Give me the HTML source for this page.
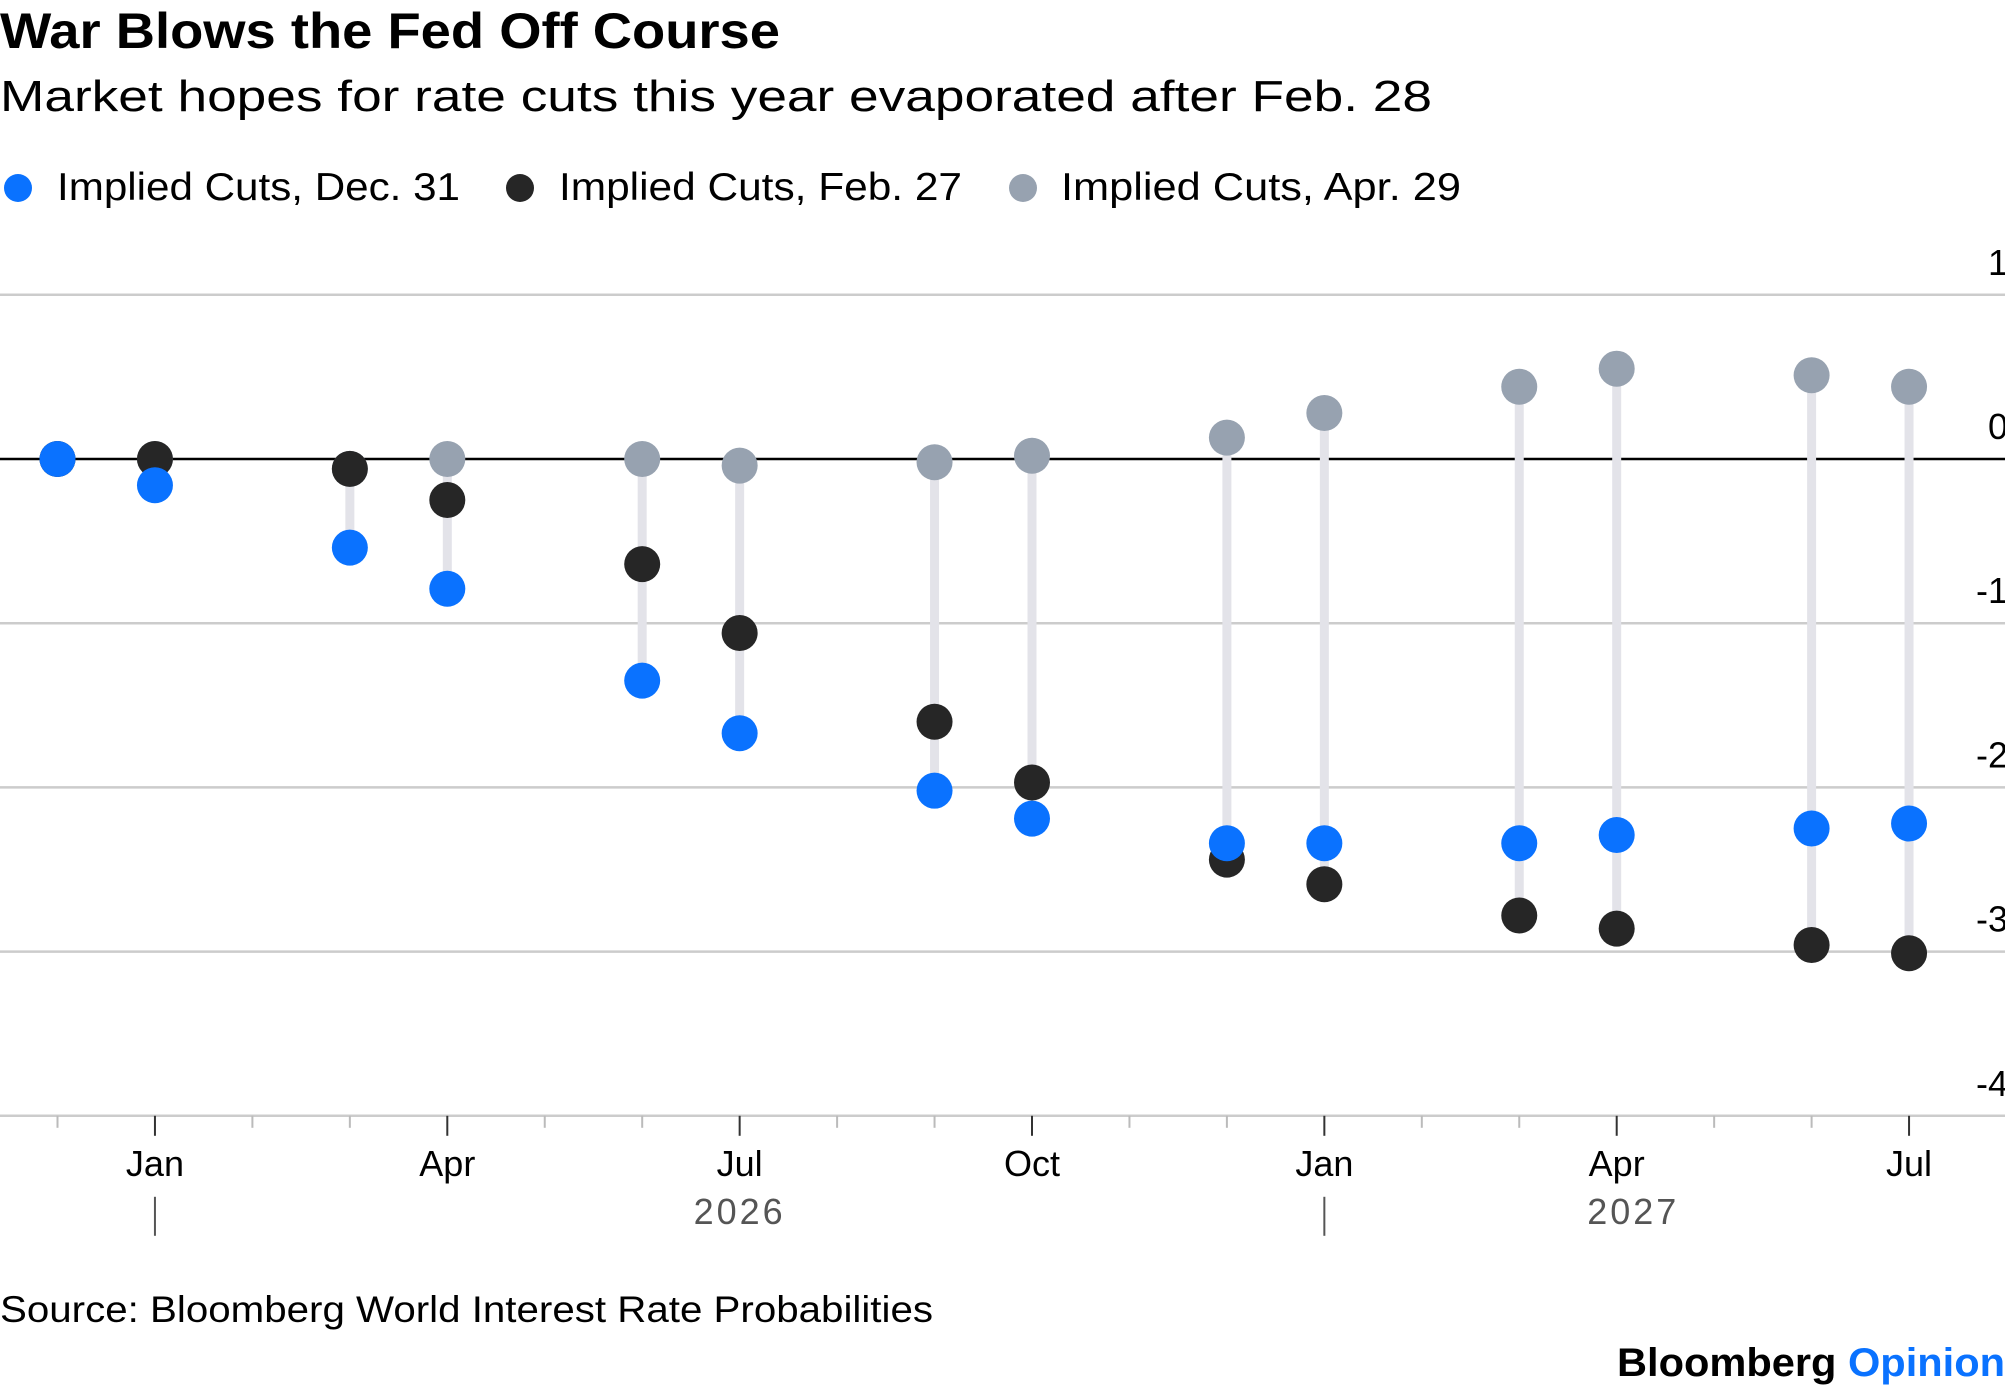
<!DOCTYPE html>
<html><head><meta charset="utf-8"><style>
html,body{margin:0;padding:0;background:#fff;}
svg{display:block;font-family:"Liberation Sans",Arial,sans-serif;}
</style></head><body>
<svg id="chart" width="2005" height="1392" viewBox="0 0 2005 1392">
<text x="0" y="48" font-size="50" font-weight="bold" fill="#000" textLength="780" lengthAdjust="spacingAndGlyphs">War Blows the Fed Off Course</text>
<text x="0" y="111" font-size="44" fill="#000" textLength="1432" lengthAdjust="spacingAndGlyphs">Market hopes for rate cuts this year evaporated after Feb. 28</text>
<g>
<g><circle cx="18" cy="188" r="14" fill="#0a72ff"/><text x="57" y="200" font-size="39" fill="#000" textLength="403" lengthAdjust="spacingAndGlyphs">Implied Cuts, Dec. 31</text></g>
<g><circle cx="520" cy="188" r="14" fill="#262626"/><text x="559" y="200" font-size="39" fill="#000" textLength="403" lengthAdjust="spacingAndGlyphs">Implied Cuts, Feb. 27</text></g>
<g><circle cx="1023" cy="188" r="14" fill="#97a2b0"/><text x="1061" y="200" font-size="39" fill="#000" textLength="400" lengthAdjust="spacingAndGlyphs">Implied Cuts, Apr. 29</text></g>
</g>
<g id="grid"></g><g id="xaxis"></g><g id="stems"></g><g id="dots"></g>
<text x="0" y="1322" font-size="37" fill="#000" textLength="933" lengthAdjust="spacingAndGlyphs">Source: Bloomberg World Interest Rate Probabilities</text>
<text x="1617" y="1376" font-size="40" font-weight="bold" textLength="388" lengthAdjust="spacingAndGlyphs"><tspan fill="#000">Bloomberg </tspan><tspan fill="#0a72ff">Opinion</tspan></text>
</svg>
<script>
const monthIdx = [0,1,3,4,6,7,9,10,12,13,15,16,18,19];
const dec31 = [0,-0.16,-0.54,-0.79,-1.35,-1.67,-2.02,-2.19,-2.34,-2.34,-2.34,-2.29,-2.25,-2.22];
const feb27 = [0,0,-0.06,-0.25,-0.64,-1.06,-1.60,-1.97,-2.44,-2.59,-2.78,-2.86,-2.96,-3.01];
const apr29 = [0,0,-0.06,0,0,-0.04,-0.02,0.02,0.13,0.28,0.44,0.55,0.51,0.44];
const yTicks = [1,0,-1,-2,-3,-4];
const yTickLabels = ["1","0","-1","-2","-3","-4"];
const xLabelMonths = [1,4,7,10,13,16,19];
const xLabels = ["Jan","Apr","Jul","Oct","Jan","Apr","Jul"];
const years = ["2026","2027"];
const yearMonthPos = [7,16.17];
const yearSepMonths = [1,13];

const NS="http://www.w3.org/2000/svg";
const xs = m => 57.5 + 97.45*m;
const ys = v => 459 - 164.2*v;
function mk(tag, attrs, parent){const e=document.createElementNS(NS,tag);for(const k in attrs)e.setAttribute(k,attrs[k]);parent.appendChild(e);return e;}
const grid=document.getElementById('grid'), xa=document.getElementById('xaxis'), stems=document.getElementById('stems'), dots=document.getElementById('dots');

yTicks.forEach((t,i)=>{
  if(t!==-4){
    const l=mk('line',{x1:0,x2:2005,y1:ys(t),y2:ys(t),stroke:t===0?'#000':'#cccccc','stroke-width':2.5},grid);
    
    
  }
  const tx=mk('text',{x:2008,y:ys(t)-20,'font-size':36,'text-anchor':'end',fill:'#000'},grid);
  tx.textContent=yTickLabels[i];
  
  
});
const base=ys(-4);
const ax=mk('line',{x1:0,x2:2005,y1:base,y2:base,stroke:'#cccccc','stroke-width':2.5},xa);


for(let m=0;m<=19;m++){
  const major=xLabelMonths.includes(m);
  const tk=mk('line',{x1:xs(m),x2:xs(m),y1:base,y2:base+(major?20:12),stroke:major?'#333':'#bbb','stroke-width':2},xa);
  
  
}
xLabelMonths.forEach((m,i)=>{
  const t=mk('text',{x:xs(m),y:base+60,'font-size':36,'text-anchor':'middle',fill:'#000'},xa);
  t.textContent=xLabels[i];
  
  
});
yearSepMonths.forEach(m=>{
  const s=mk('line',{x1:xs(m),x2:xs(m),y1:base+81,y2:base+120,stroke:'#555','stroke-width':2},xa);
  
  
});
years.forEach((y,i)=>{
  const t=mk('text',{x:xs(yearMonthPos[i]),y:base+108,'font-size':36,'text-anchor':'middle',fill:'#555','letter-spacing':3},xa);
  t.textContent=y;
  
  
});
monthIdx.forEach((m,i)=>{
  const vals=[dec31[i],feb27[i],apr29[i]];
  const s=mk('line',{x1:xs(m),x2:xs(m),y1:ys(Math.max(...vals)),y2:ys(Math.min(...vals)),stroke:'#e3e3e9','stroke-width':9},stems);
  
  
});
[[apr29,'#97a2b0','dot-apr29'],[feb27,'#262626','dot-feb27'],[dec31,'#0a72ff','dot-dec31']].forEach(([arr,col,name])=>{
  monthIdx.forEach((m,i)=>{
    const c=mk('circle',{cx:xs(m),cy:ys(arr[i]),r:18,fill:col},dots);
    
    
  });
});
</script>
</body></html>
